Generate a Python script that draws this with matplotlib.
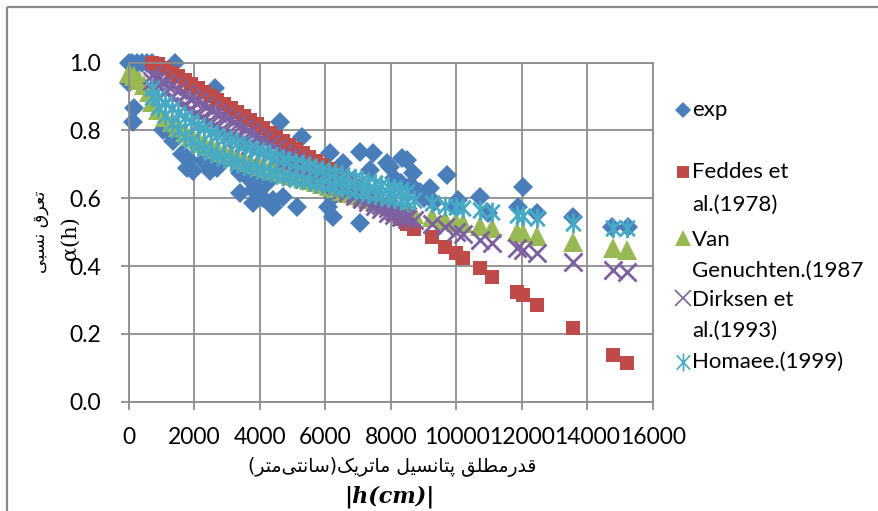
import matplotlib.pyplot as plt
from matplotlib.path import Path
from matplotlib.patches import Rectangle

# shared matric heads |h| (cm) of the model curves
h_lo = [700, 900, 1100, 1300, 1500, 1700, 1900, 2100, 2300, 2500,
        2700, 2900, 3100, 3300, 3500, 3700, 3900, 4100, 4300, 4500,
        4700, 4900, 5100, 5300, 5500, 5700, 5900, 6100, 6300, 6500,
        6700, 6900, 7100, 7300, 7500, 7700, 7900, 8100, 8300, 8500]
h_hi = [8700, 9250, 9650, 10000, 10200, 10720, 11080, 11840, 12030, 12450,
        13560, 14780, 15200]

# Feddes et al. (1978)
feddes_lo = [1.00, 0.995, 0.983, 0.971, 0.960, 0.948, 0.937, 0.925, 0.914, 0.902,
             0.890, 0.878, 0.866, 0.854, 0.842, 0.830, 0.818, 0.806, 0.794, 0.782,
             0.770, 0.758, 0.746, 0.734, 0.722, 0.710, 0.698, 0.686, 0.674, 0.662,
             0.650, 0.637, 0.620, 0.607, 0.594, 0.580, 0.567, 0.553, 0.540, 0.525]
feddes_hi = [0.510, 0.486, 0.457, 0.438, 0.423, 0.394, 0.368, 0.323, 0.315, 0.285,
             0.217, 0.138, 0.114]

# Van Genuchten (1987)
vg_start_h = [0, 150, 300, 450, 600]
vg_start = [0.97, 0.96, 0.95, 0.935, 0.915]
vg_lo = [0.885, 0.860, 0.840, 0.825, 0.810, 0.797, 0.785, 0.774, 0.764, 0.755,
         0.746, 0.738, 0.730, 0.722, 0.715, 0.708, 0.701, 0.695, 0.689, 0.683,
         0.677, 0.671, 0.665, 0.659, 0.653, 0.647, 0.641, 0.635, 0.629, 0.623,
         0.617, 0.611, 0.605, 0.599, 0.593, 0.587, 0.581, 0.575, 0.569, 0.563]
vg_hi = [0.555, 0.545, 0.537, 0.530, 0.527, 0.518, 0.512, 0.500, 0.497, 0.489,
         0.470, 0.453, 0.448]

# Dirksen et al. (1993), upper and lower edge of the band
dirksen_top = [0.965, 0.952, 0.941, 0.930, 0.919, 0.908, 0.897, 0.886, 0.875, 0.864,
               0.853, 0.842, 0.831, 0.819, 0.807, 0.795, 0.783, 0.771, 0.759, 0.747,
               0.735, 0.723, 0.712, 0.701, 0.690, 0.679, 0.668, 0.657, 0.647, 0.637,
               0.627, 0.617, 0.607, 0.598, 0.589, 0.580, 0.571, 0.563, 0.555, 0.547]
dirksen_bot = [0.945, 0.930, 0.915, 0.900, 0.885, 0.872, 0.859, 0.846, 0.834, 0.822,
               0.810, 0.799, 0.788, 0.777, 0.767, 0.757, 0.747, 0.737, 0.728, 0.719,
               0.710, 0.701, 0.692, 0.683, 0.675, 0.667, 0.659, 0.651, 0.643, 0.628,
               0.618, 0.608, 0.598, 0.588, 0.578, 0.568, 0.558, 0.550, 0.544, 0.539]
dirksen_hi = [0.535, 0.525, 0.515, 0.500, 0.495, 0.478, 0.468, 0.452, 0.447, 0.438,
              0.412, 0.388, 0.383]

# Homaee (1999), upper and lower edge of the band
homaee_top = [0.925, 0.900, 0.880, 0.865, 0.852, 0.840, 0.828, 0.817, 0.806, 0.797,
              0.788, 0.779, 0.771, 0.763, 0.756, 0.749, 0.742, 0.736, 0.729, 0.723,
              0.717, 0.711, 0.705, 0.700, 0.694, 0.689, 0.684, 0.679, 0.674, 0.669,
              0.664, 0.659, 0.654, 0.649, 0.644, 0.639, 0.634, 0.629, 0.624, 0.619]
homaee_bot = [0.900, 0.870, 0.845, 0.822, 0.802, 0.785, 0.770, 0.757, 0.746, 0.736,
              0.727, 0.719, 0.712, 0.705, 0.699, 0.693, 0.687, 0.682, 0.677, 0.672,
              0.667, 0.662, 0.658, 0.654, 0.650, 0.646, 0.642, 0.638, 0.634, 0.630,
              0.626, 0.622, 0.618, 0.614, 0.610, 0.606, 0.602, 0.598, 0.594, 0.590]
homaee_hi = [0.595, 0.585, 0.578, 0.573, 0.570, 0.565, 0.560, 0.550, 0.547, 0.541,
             0.527, 0.513, 0.511]

# measured points
exp_h = [0, 100, 250, 400, 550, 700, 850, 1400, 0, 150, 120,
         1040, 1160, 1340, 1620, 1770, 1770, 1950, 2260, 2470, 2690, 2990,
         3390, 3390, 3690, 3790, 3790, 4000, 4100, 4210, 4400, 4400, 4610,
         4700, 4820, 5130, 6075, 6230, 6230, 7050,
         2625, 4610, 5280, 6140, 7050, 6530, 7360, 7880, 7450, 8330, 8490,
         7970, 8670, 9710, 9190, 10040, 10720, 10960, 12030, 11880, 12450,
         13560, 14750, 15230, 8100, 8300, 8600, 8900, 9300, 9000, 10000]
exp_a = [1.0, 1.0, 1.0, 1.0, 1.0, 1.0, 0.99, 1.0, 0.94, 0.865, 0.825,
         0.80, 0.80, 0.77, 0.73, 0.72, 0.69, 0.68, 0.71, 0.68, 0.69, 0.72,
         0.675, 0.615, 0.654, 0.625, 0.586, 0.634, 0.60, 0.645, 0.595, 0.575, 0.70,
         0.605, 0.665, 0.575, 0.575, 0.545, 0.604, 0.527,
         0.925, 0.825, 0.78, 0.733, 0.737, 0.704, 0.683, 0.704, 0.733, 0.72, 0.713,
         0.693, 0.675, 0.669, 0.63, 0.595, 0.604, 0.557, 0.634, 0.575, 0.556,
         0.545, 0.516, 0.516, 0.66, 0.645, 0.64, 0.62, 0.59, 0.60, 0.575]

x_ticks = [0, 2000, 4000, 6000, 8000, 10000, 12000, 14000, 16000]
y_ticks = [0.0, 0.2, 0.4, 0.6, 0.8, 1.0]

BLUE, RED, GREEN, PURPLE, CYAN = "#4A7EBB", "#BE4B48", "#98B954", "#7D60A0", "#46AAC5"
GRID = "#8C8C8C"

# excel style asterisk: vertical bar plus a cross
star = Path([(0, -1), (0, 1), (-0.75, -0.8), (0.75, 0.8), (-0.75, 0.8), (0.75, -0.8)],
            [Path.MOVETO, Path.LINETO] * 3)

plt.rcParams["font.family"] = ["Lato", "DejaVu Sans"]

fig = plt.figure(figsize=(8.79, 5.11), dpi=100)
ax = fig.add_axes([129 / 879, (511 - 401.7) / 511, 524 / 879, 339 / 511])

kw = dict(linestyle="none", clip_on=False)
ax.plot(exp_h, exp_a, marker="D", ms=10.5, color=BLUE, mew=0, **kw)
ax.plot(h_lo + h_hi, feddes_lo + feddes_hi, marker="s", ms=10.5, color=RED, mew=0, **kw)
ax.plot(vg_start_h + h_lo + h_hi, vg_start + vg_lo + vg_hi,
        marker="^", ms=14, color=GREEN, mew=0, **kw)
ax.plot(h_lo + h_lo + h_hi, dirksen_top + dirksen_bot + dirksen_hi,
        marker="x", ms=13, color=PURPLE, mew=2, **kw)
ax.plot(h_lo + h_lo + h_hi, homaee_top + homaee_bot + homaee_hi,
        marker=star, ms=14, color=CYAN, mew=2, **kw)

ax.set_xlim(0, 16000)
ax.set_ylim(0, 1.0)
ax.set_xticks(x_ticks)
ax.set_yticks(y_ticks)
ax.set_yticklabels([f"{v:.1f}" for v in y_ticks])
ax.grid(True, color=GRID, lw=1.3)
ax.set_axisbelow(True)
for s in ax.spines.values():
    s.set_color(GRID)
    s.set_linewidth(1.3)
ax.tick_params(length=6, width=1.3, color=GRID, labelsize=16.5)
ax.tick_params(axis="x", pad=12)
ax.tick_params(axis="y", pad=14)

# overlay in pixel coordinates for labels, legend and chart border
ov = fig.add_axes([0, 0, 1, 1], facecolor="none")
ov.set_xlim(0, 879)
ov.set_ylim(511, 0)
ov.axis("off")
ov.add_patch(Rectangle((7, 7), 900, 520, fill=False, ec="#8A8A8A", lw=1.6))

# "تعرق نسبی" in visual order, presentation forms
fa_ylabel = "\ufbfd\ufe92\ufeb4\ufee7 \ufed5\ufeae\ufecc\ufe97"
# "قدرمطلق پتانسیل ماتریک(سانتی‌متر)" in visual order, presentation forms
fa_xlabel = ("(\ufeae\ufe98\ufee3\ufbfd\ufe98\ufee7\ufe8e\ufeb3)"
             "\ufb8f\ufbfe\ufeae\ufe97\ufe8e\ufee3 "
             "\ufede\ufbff\ufeb4\ufee7\ufe8e\ufe98\ufb58 "
             "\ufed6\ufee0\ufec4\ufee3\ufead\ufeaa\ufed7")

ov.text(40, 232, fa_ylabel, rotation=90, ha="center", va="center",
        family="DejaVu Sans", fontsize=12.5)
ov.text(70, 238, "\u03b1(h)", rotation=90, ha="center", va="center",
        family="DejaVu Serif", fontsize=15)
ov.text(392, 467, fa_xlabel, ha="center", va="center", family="DejaVu Sans", fontsize=13.5)
ov.text(389, 497, "|h(cm)|", ha="center", va="center", family="DejaVu Serif",
        style="italic", weight="bold", fontsize=16)

leg_marks = [("D", BLUE, 110, 8), ("s", RED, 172, 9), ("^", GREEN, 238, 12),
             ("x", PURPLE, 298, 12), (star, CYAN, 362, 13)]
for m, c, y, ms in leg_marks:
    ov.plot([683], [y], marker=m, color=c, ms=ms, mew=1.2 if m in ("x",) or m is star else 0)
leg_text = [("exp", 110), ("Feddes et", 172), ("al.(1978)", 205), ("Van", 240),
            ("Genuchten.(1987", 271), ("Dirksen et", 300), ("al.(1993)", 331),
            ("Homaee.(1999)", 362)]
for t, y in leg_text:
    ov.text(692, y, t, ha="left", va="center", fontsize=16)

fig.savefig("out.png", dpi=100)
